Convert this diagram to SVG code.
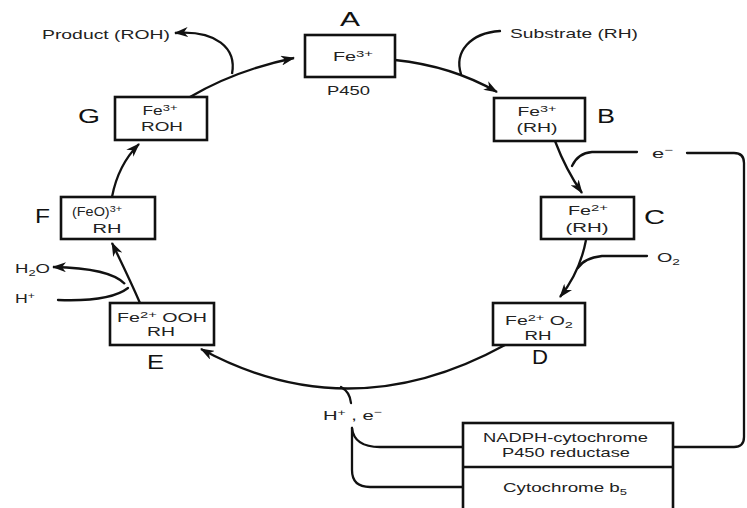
<svg xmlns="http://www.w3.org/2000/svg" width="747" height="508" viewBox="0 0 747 508">
  <defs>
    <marker id="ah" viewBox="0 0 14 10" refX="13" refY="5" markerWidth="14" markerHeight="10" orient="auto" markerUnits="userSpaceOnUse">
      <path d="M0,0 L14,5 L0,10 L4,5 z" fill="#111"/>
    </marker>
    <style>
      .box { fill: #fff; stroke: #111; stroke-width: 2.6; }
      .ln { fill: none; stroke: #111; stroke-width: 2.3; stroke-linecap: round; }
      .arr { fill: none; stroke: #111; stroke-width: 2.3; marker-end: url(#ah); }
      text { font-family: "Liberation Sans", Arial, sans-serif; fill: #222; }
      .t { font-size: 12px; text-anchor: middle; }
      .lbl { font-size: 20px; text-anchor: start; fill: #111; }
      .side { font-size: 13px; }
      .sm { font-size: 9px; }
    </style>
  </defs>

  <!-- connectors of the catalytic cycle -->
  <g id="connectors">
    <!-- A -> B with substrate entering -->
    <path class="arr" d="M395,60 Q452,66 497,92"/>
    <path class="ln" d="M500,31 C470,33 454,52 461,74"/>
    <!-- B -> C with electron entering -->
    <path class="arr" d="M555,141 Q566,170 582,193"/>
    <path class="ln" d="M637,152 L592,152 Q578,153 572,166"/>
    <!-- C -> D with O2 entering -->
    <path class="arr" d="M586,240 Q580,272 560,297"/>
    <path class="ln" d="M647,256 L602,256 Q584,258 578,268"/>
    <!-- D -> E with H+, e- entering -->
    <path class="arr" d="M505,345 Q350,430 201,349"/>
    <path class="ln" d="M341,387 Q350,392 351,403"/>
    <!-- E -> F with H+ in, H2O out -->
    <path class="arr" d="M140,303 Q130,280 112,243"/>
    <path class="arr" d="M125,284 Q110,268 53,267"/>
    <path class="ln" d="M58,300 Q110,302 128,288"/>
    <!-- F -> G -->
    <path class="arr" d="M112,197 Q118,165 139,144"/>
    <!-- G -> A with product leaving -->
    <path class="arr" d="M190,97 Q236,70 294,58"/>
    <path class="arr" d="M232,74 C237,48 216,30 175,33"/>
    <!-- electron supply lines -->
    <path class="ln" d="M352,428 Q354,447 380,447 L463,447"/>
    <path class="ln" d="M352,428 L352,470 Q352,487 370,487 L463,487"/>
    <path class="ln" d="M673,447 L734,447 Q744,447 744,437 L744,163 Q744,153 734,153 L687,153"/>
  </g>

  <g id="node-A">
    <rect class="box" x="305" y="35" width="90" height="42"/>
    <text class="t" x="353" y="61" textLength="40" lengthAdjust="spacingAndGlyphs">Fe<tspan class="sm" dy="-4">3+</tspan></text>
    <text class="lbl" x="340" y="26" textLength="20" lengthAdjust="spacingAndGlyphs">A</text>
    <text class="side" x="327" y="95" textLength="43" lengthAdjust="spacingAndGlyphs">P450</text>
  </g>

  <g id="node-B">
    <rect class="box" x="494" y="98" width="91" height="43"/>
    <text class="t" x="537" y="116" textLength="39" lengthAdjust="spacingAndGlyphs">Fe<tspan class="sm" dy="-4">3+</tspan></text>
    <text class="t" x="537" y="132" textLength="41" lengthAdjust="spacingAndGlyphs">(RH)</text>
    <text class="lbl" x="597" y="123" textLength="18" lengthAdjust="spacingAndGlyphs">B</text>
  </g>

  <g id="node-C">
    <rect class="box" x="541" y="197" width="93" height="42"/>
    <text class="t" x="588" y="215" textLength="40" lengthAdjust="spacingAndGlyphs">Fe<tspan class="sm" dy="-4">2+</tspan></text>
    <text class="t" x="587" y="232" textLength="43" lengthAdjust="spacingAndGlyphs">(RH)</text>
    <text class="lbl" x="644" y="224" textLength="21" lengthAdjust="spacingAndGlyphs">C</text>
  </g>

  <g id="node-D">
    <rect class="box" x="493" y="303" width="92" height="42"/>
    <text class="t" x="539" y="325" textLength="68" lengthAdjust="spacingAndGlyphs">Fe<tspan class="sm" dy="-4">2+</tspan><tspan dy="4"> O</tspan><tspan class="sm" dy="3">2</tspan></text>
    <text class="t" x="538" y="340" textLength="27" lengthAdjust="spacingAndGlyphs">RH</text>
    <text class="lbl" x="532" y="364" textLength="16" lengthAdjust="spacingAndGlyphs">D</text>
  </g>

  <g id="node-E">
    <rect class="box" x="110" y="303" width="104" height="42"/>
    <text class="t" x="162" y="322" textLength="90" lengthAdjust="spacingAndGlyphs">Fe<tspan class="sm" dy="-4">2+</tspan><tspan dy="4"> OOH</tspan></text>
    <text class="t" x="161" y="336" textLength="28" lengthAdjust="spacingAndGlyphs">RH</text>
    <text class="lbl" x="147" y="369" textLength="17" lengthAdjust="spacingAndGlyphs">E</text>
  </g>

  <g id="node-F">
    <rect class="box" x="61" y="197" width="94" height="42"/>
    <text class="t" x="97" y="216" textLength="50" lengthAdjust="spacingAndGlyphs">(FeO)<tspan class="sm" dy="-4">3+</tspan></text>
    <text class="t" x="107" y="233" textLength="29" lengthAdjust="spacingAndGlyphs">RH</text>
    <text class="lbl" x="35" y="223" textLength="15" lengthAdjust="spacingAndGlyphs">F</text>
  </g>

  <g id="node-G">
    <rect class="box" x="115" y="97" width="92" height="43"/>
    <text class="t" x="160" y="115" textLength="35" lengthAdjust="spacingAndGlyphs">Fe<tspan class="sm" dy="-4">3+</tspan></text>
    <text class="t" x="162" y="131" textLength="42" lengthAdjust="spacingAndGlyphs">ROH</text>
    <text class="lbl" x="78" y="123" textLength="22" lengthAdjust="spacingAndGlyphs">G</text>
  </g>

  <g id="node-reductase">
    <rect class="box" x="463" y="423" width="210" height="100"/>
    <line x1="463" y1="467" x2="673" y2="467" stroke="#111" stroke-width="2.6"/>
    <text class="side" x="483" y="442" textLength="165" lengthAdjust="spacingAndGlyphs">NADPH-cytochrome</text>
    <text class="side" x="502" y="457" textLength="128" lengthAdjust="spacingAndGlyphs">P450 reductase</text>
    <text class="side" x="503" y="492" textLength="124" lengthAdjust="spacingAndGlyphs">Cytochrome b<tspan class="sm" dy="3">5</tspan></text>
  </g>

  <g id="labels">
    <text class="side" x="42" y="39" textLength="128" lengthAdjust="spacingAndGlyphs">Product (ROH)</text>
    <text class="side" x="510" y="38" textLength="128" lengthAdjust="spacingAndGlyphs">Substrate (RH)</text>
    <text class="side" x="652" y="158" textLength="21" lengthAdjust="spacingAndGlyphs">e<tspan class="sm" dy="-5">−</tspan></text>
    <text class="side" x="657" y="262" textLength="23" lengthAdjust="spacingAndGlyphs">O<tspan class="sm" dy="3">2</tspan></text>
    <text class="side" x="15" y="273" textLength="35" lengthAdjust="spacingAndGlyphs">H<tspan class="sm" dy="3">2</tspan><tspan dy="-3">O</tspan></text>
    <text class="side" x="15" y="303" textLength="20" lengthAdjust="spacingAndGlyphs">H<tspan class="sm" dy="-4">+</tspan></text>
    <text class="side" x="323" y="420" textLength="59" lengthAdjust="spacingAndGlyphs">H<tspan class="sm" dy="-4">+</tspan><tspan dy="4"> , e</tspan><tspan class="sm" dy="-5">−</tspan></text>
  </g>
</svg>
